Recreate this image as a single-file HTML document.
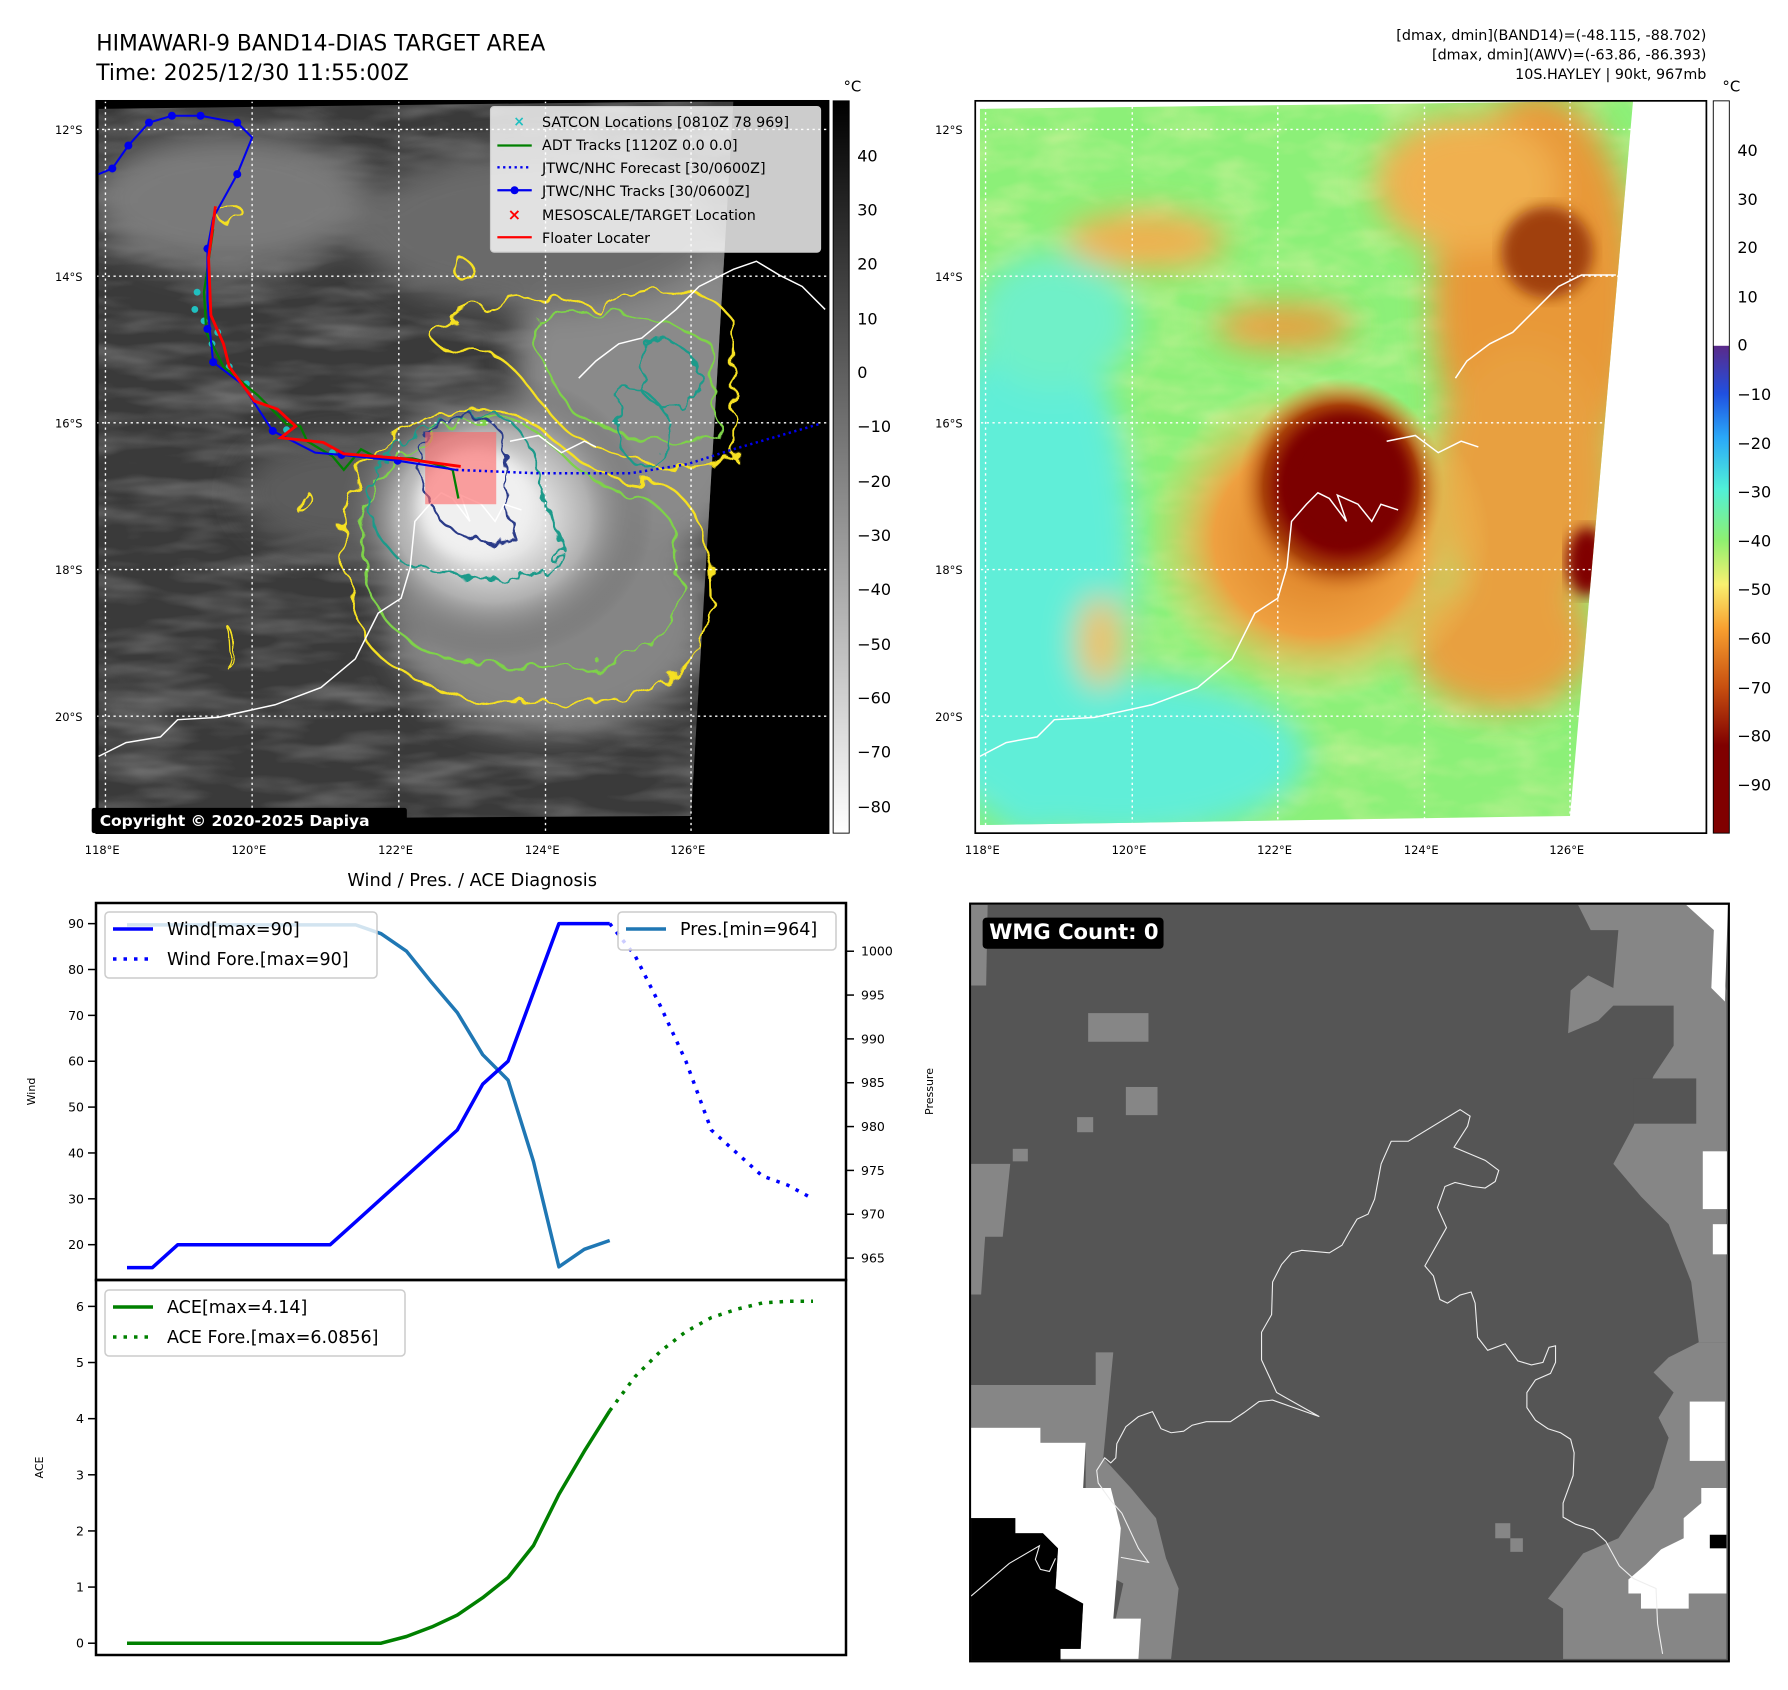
<!DOCTYPE html>
<html><head><meta charset="utf-8">
<style>
html,body{margin:0;padding:0;background:#fff;}
body{width:1788px;height:1690px;position:relative;overflow:hidden;font-family:"Liberation Sans","DejaVu Sans",sans-serif;}
svg{position:absolute;left:0;top:0;}
text{font-family:"DejaVu Sans","Liberation Sans",sans-serif;}
</style></head>
<body>
<svg width="1788" height="1690" viewBox="0 0 1560.2 1474.7">
<defs>
<filter id="wig" x="-20%" y="-20%" width="140%" height="140%"><feTurbulence type="fractalNoise" baseFrequency="0.05" numOctaves="2" seed="3"/><feDisplacementMap in="SourceGraphic" scale="22"/></filter>
<filter id="wig2" x="-20%" y="-20%" width="140%" height="140%"><feTurbulence type="fractalNoise" baseFrequency="0.08" numOctaves="2" seed="7"/><feDisplacementMap in="SourceGraphic" scale="16"/></filter>
<filter id="bl"><feGaussianBlur stdDeviation="14"/></filter>
<filter id="bl2"><feGaussianBlur stdDeviation="6"/></filter>
<filter id="tex" x="0" y="0" width="100%" height="100%"><feTurbulence type="fractalNoise" baseFrequency="0.012 0.05" numOctaves="3" seed="11"/><feColorMatrix type="matrix" values="0 0 0 0 1  0 0 0 0 1  0 0 0 0 1  0.9 0 0 0 -0.35"/></filter>
<filter id="tex2" x="0" y="0" width="100%" height="100%"><feTurbulence type="fractalNoise" baseFrequency="0.02 0.04" numOctaves="3" seed="5"/><feColorMatrix type="matrix" values="0 0 0 0 0.97  0 0 0 0 0.9  0 0 0 0 0.45  1.2 0 0 0 -0.45"/></filter>
<clipPath id="c1"><polygon points="86,95 640,88 603,712 86,715"/></clipPath>
<clipPath id="c2"><polygon points="855,95 1425,88 1370,712 855,720"/></clipPath>
<linearGradient id="gcb" x1="0" y1="0" x2="0" y2="1"><stop offset="0" stop-color="#000"/><stop offset="1" stop-color="#fff"/></linearGradient>
<linearGradient id="ccb" x1="0" y1="0" x2="0" y2="1">
<stop offset="0" stop-color="#fff"/><stop offset="0.334" stop-color="#fff"/><stop offset="0.335" stop-color="#5a2a8a"/>
<stop offset="0.40" stop-color="#2050e0"/><stop offset="0.46" stop-color="#2aa8f8"/><stop offset="0.53" stop-color="#50f0d8"/>
<stop offset="0.60" stop-color="#8ef070"/><stop offset="0.66" stop-color="#f8f070"/><stop offset="0.72" stop-color="#f8a030"/>
<stop offset="0.80" stop-color="#c85010"/><stop offset="0.88" stop-color="#800000"/><stop offset="1" stop-color="#800000"/></linearGradient>
<radialGradient id="stormg"><stop offset="0" stop-color="#f4f4f4"/><stop offset="0.3" stop-color="#e4e4e4"/><stop offset="0.6" stop-color="#b0b0b0"/><stop offset="1" stop-color="#555" stop-opacity="0"/></radialGradient>
<radialGradient id="stormc"><stop offset="0" stop-color="#780000"/><stop offset="0.55" stop-color="#800000"/><stop offset="0.75" stop-color="#a84008"/><stop offset="1" stop-color="#e08a30" stop-opacity="0"/></radialGradient>
<radialGradient id="orng"><stop offset="0" stop-color="#d87820"/><stop offset="0.6" stop-color="#eea040"/><stop offset="1" stop-color="#f0d060" stop-opacity="0"/></radialGradient>
</defs>

<text x="84" y="44" font-size="19">HIMAWARI-9 BAND14-DIAS TARGET AREA</text>
<text x="84" y="70" font-size="19">Time: 2025/12/30 11:55:00Z</text>
<g font-size="12.5" text-anchor="end">
<text x="1489" y="35">[dmax, dmin](BAND14)=(-48.115, -88.702)</text>
<text x="1489" y="52">[dmax, dmin](AWV)=(-63.86, -86.393)</text>
<text x="1489" y="69">10S.HAYLEY | 90kt, 967mb</text>
</g>

<g>
<rect x="84" y="88" width="639" height="639" fill="#000"/>
<g clip-path="url(#c1)">
<rect x="80" y="80" width="600" height="650" fill="#3a3a3a"/>
<rect x="80" y="80" width="600" height="650" filter="url(#tex)" opacity="0.55"/>
<g filter="url(#bl)">
<ellipse cx="200" cy="175" rx="120" ry="60" fill="#7a7a7a"/>
<ellipse cx="560" cy="330" rx="110" ry="160" fill="#8a8a8a"/>
<ellipse cx="470" cy="200" rx="160" ry="70" fill="#6a6a6a"/>
<ellipse cx="480" cy="540" rx="140" ry="100" fill="#858585"/>
<ellipse cx="300" cy="430" rx="90" ry="50" fill="#5c5c5c"/>
</g>
<ellipse cx="430" cy="450" rx="140" ry="125" fill="url(#stormg)"/>
<ellipse cx="415" cy="440" rx="50" ry="48" fill="#f0f0f0" filter="url(#bl2)"/>
</g>
<g fill="none" stroke-width="2">
<g stroke="#f5e020" filter="url(#wig)">
<path d="M310,420 C330,370 400,350 440,360 C480,365 500,420 560,420 C600,420 620,460 620,520 C620,590 560,620 480,610 C420,620 350,600 320,560 C300,520 290,460 310,420Z"/>
<path d="M380,290 C420,260 480,250 520,270 C560,240 620,250 640,280 L640,400 C600,420 560,400 520,390 C480,380 460,320 430,310 C400,305 370,305 380,290Z"/>
<path d="M190,185 C200,175 215,180 212,190 C205,200 190,198 190,185Z"/>
<path d="M395,225 C405,220 420,235 410,245 C400,248 392,235 395,225Z"/>
<path d="M260,430 C270,420 275,440 265,450Z"/>
<path d="M200,550 C205,545 210,580 202,585Z"/>
</g>
<g stroke="#7ed24a" filter="url(#wig)">
<path d="M325,430 C350,380 410,360 440,365 C480,370 500,425 550,430 C590,440 600,480 590,530 C570,580 510,590 460,580 C410,585 350,570 330,530 C315,500 312,460 325,430Z"/>
<path d="M470,280 C520,270 580,270 620,300 L625,380 C590,400 540,380 500,360 C480,330 460,300 470,280Z"/>
</g>
<g stroke="#1e9a8a" filter="url(#wig2)">
<path d="M325,420 C340,375 400,360 430,362 C460,365 470,410 475,440 C490,470 500,490 470,500 C440,510 380,500 350,490 C330,470 315,450 325,420Z"/>
<path d="M560,300 C590,290 615,310 610,340 C600,360 570,360 560,340Z"/>
<path d="M540,340 C570,335 590,360 580,400 C560,420 540,400 540,370Z"/>
</g>
<g stroke="#2c3a88" filter="url(#wig2)">
<path d="M368,390 C380,360 420,355 435,375 C445,400 440,440 450,470 C430,480 400,470 385,455 C375,440 362,415 368,390Z"/>
</g>
</g>
<g fill="none" stroke="#fff" stroke-width="1.3">
<path d="M86,660 L110,648 L140,643 L155,628 L190,626 L240,615 L280,600 L310,575 L330,535 L350,522 L358,495 L362,455 L375,440 L385,430 L395,435 L410,455 L402,432 L420,440 L432,455 L440,440 L455,445"/>
<path d="M505,330 L520,315 L540,300 L560,295 L590,270 L610,250 L640,235 L660,228 L680,240 L700,250 L720,270"/>
<path d="M445,385 L470,380 L490,395 L510,385 L520,390"/>
</g>
<g stroke="#fff" stroke-width="1.2" stroke-dasharray="2,3">
<line x1="92" y1="88" x2="92" y2="727"/><line x1="220" y1="88" x2="220" y2="727"/><line x1="348" y1="88" x2="348" y2="727"/><line x1="476" y1="88" x2="476" y2="727"/><line x1="603" y1="88" x2="603" y2="727"/>
<line x1="84" y1="113" x2="723" y2="113"/><line x1="84" y1="241" x2="723" y2="241"/><line x1="84" y1="369" x2="723" y2="369"/><line x1="84" y1="497" x2="723" y2="497"/><line x1="84" y1="625" x2="723" y2="625"/>
</g>
<rect x="371" y="377" width="62" height="63" fill="#ff6666" opacity="0.6"/>
<polyline points="398,410 470,413 550,413 600,405 640,392 715,370" fill="none" stroke="#0000ee" stroke-width="2.2" stroke-dasharray="2,3"/>
<g fill="#20c0c0">
<circle cx="172" cy="255" r="3"/><circle cx="178" cy="280" r="3"/><circle cx="185" cy="300" r="3"/><circle cx="200" cy="320" r="3"/><circle cx="215" cy="335" r="3"/><circle cx="250" cy="375" r="3"/><circle cx="290" cy="395" r="3"/><circle cx="170" cy="270" r="3"/><circle cx="190" cy="290" r="3"/>
</g>
<polyline points="186,200 178,255 180,290 195,320 225,345 250,370 262,372 268,385 290,398 300,410 315,392 330,400 360,400 380,405 395,410 400,435" fill="none" stroke="#008000" stroke-width="2"/>
<polyline points="86,152 98,147 112,127 130,107 150,101 175,101 207,107 220,120 207,152 186,190 181,217 181,262 183,287 186,316 211,335 238,376 275,395 298,397 347,402 398,410" fill="none" stroke="#0000ee" stroke-width="1.8"/>
<g fill="#0000ee"><circle cx="98" cy="147" r="3.5"/><circle cx="112" cy="127" r="3.5"/><circle cx="130" cy="107" r="3.5"/><circle cx="150" cy="101" r="3.5"/><circle cx="175" cy="101" r="3.5"/><circle cx="207" cy="107" r="3.5"/><circle cx="207" cy="152" r="3.5"/><circle cx="181" cy="217" r="3.5"/><circle cx="181" cy="287" r="3.5"/><circle cx="186" cy="316" r="3.5"/><circle cx="238" cy="376" r="3.5"/><circle cx="298" cy="397" r="3.5"/><circle cx="347" cy="402" r="3.5"/></g>
<polyline points="188,180 182,225 184,275 195,300 200,320 222,350 242,357 258,372 245,382 282,386 300,396 350,400 402,407" fill="none" stroke="#ff0000" stroke-width="2.5"/>
<g>
<rect x="428" y="93" width="288" height="127" rx="3" fill="#fff" fill-opacity="0.8" stroke="#ccc"/>
<g font-size="12.5">
<text x="448" y="110" fill="#20c0c0" font-size="12" font-weight="bold">×</text><text x="473" y="111">SATCON Locations [0810Z 78 969]</text>
<line x1="434" y1="127" x2="464" y2="127" stroke="#008000" stroke-width="2"/><text x="473" y="131">ADT Tracks [1120Z 0.0 0.0]</text>
<line x1="434" y1="146" x2="464" y2="146" stroke="#0000ee" stroke-width="2" stroke-dasharray="2,3"/><text x="473" y="151">JTWC/NHC Forecast [30/0600Z]</text>
<line x1="434" y1="166" x2="464" y2="166" stroke="#0000ee" stroke-width="2"/><circle cx="449" cy="166" r="3.5" fill="#0000ee"/><text x="473" y="171">JTWC/NHC Tracks [30/0600Z]</text>
<text x="443" y="192" fill="#ff0000" font-size="14" font-weight="bold">×</text><text x="473" y="192">MESOSCALE/TARGET Location</text>
<line x1="434" y1="207" x2="464" y2="207" stroke="#ff0000" stroke-width="2"/><text x="473" y="212">Floater Locater</text>
</g></g>
<rect x="80" y="705" width="275" height="22" rx="2" fill="#000"/>
<text x="87" y="721" fill="#fff" font-size="13.5" font-weight="bold">Copyright © 2020-2025 Dapiya</text>
<rect x="84" y="88" width="639" height="639" fill="none" stroke="#000" stroke-width="1.5"/>
</g>
<g>
<rect x="727" y="88" width="14" height="639" fill="url(#gcb)" stroke="#000" stroke-width="0.8"/>
<text x="736" y="80" font-size="13">°C</text>
<g font-size="14">
<text x="748" y="141">40</text><text x="748" y="188">30</text><text x="748" y="235">20</text><text x="748" y="283">10</text><text x="748" y="330">0</text>
<text x="748" y="377">−10</text><text x="748" y="425">−20</text><text x="748" y="472">−30</text><text x="748" y="519">−40</text><text x="748" y="567">−50</text><text x="748" y="614">−60</text><text x="748" y="661">−70</text><text x="748" y="709">−80</text>
</g></g>
<g font-size="10">
<text x="48" y="117">12°S</text><text x="48" y="245">14°S</text><text x="48" y="373">16°S</text><text x="48" y="501">18°S</text><text x="48" y="629">20°S</text>
<text x="74" y="745">118°E</text><text x="202" y="745">120°E</text><text x="330" y="745">122°E</text><text x="458" y="745">124°E</text><text x="585" y="745">126°E</text>
</g>

<g>
<rect x="851" y="88" width="638" height="639" fill="#fff"/>
<g clip-path="url(#c2)">
<rect x="850" y="80" width="600" height="650" fill="#8cf078"/>
<rect x="850" y="80" width="600" height="650" filter="url(#tex2)" opacity="0.6"/>
<g filter="url(#bl)">
<ellipse cx="900" cy="500" rx="90" ry="230" fill="#60eed8"/>
<ellipse cx="980" cy="660" rx="160" ry="70" fill="#60eed8"/>
<ellipse cx="920" cy="280" rx="70" ry="60" fill="#70f0c8"/>
<ellipse cx="1340" cy="260" rx="90" ry="180" fill="#e89838"/>
<ellipse cx="1280" cy="160" rx="80" ry="60" fill="#f0b050"/>
<ellipse cx="1330" cy="420" rx="80" ry="120" fill="#e8a040"/>
<ellipse cx="1310" cy="560" rx="80" ry="60" fill="#e8a040"/>
<ellipse cx="1000" cy="210" rx="70" ry="25" fill="#f0b050"/>
<ellipse cx="1120" cy="285" rx="60" ry="20" fill="#e8a040"/>
<ellipse cx="960" cy="560" rx="20" ry="40" fill="#f0c060"/>
</g>
<ellipse cx="1350" cy="220" rx="40" ry="40" fill="#a04010" filter="url(#bl2)"/>
<ellipse cx="1385" cy="490" rx="18" ry="30" fill="#800000" filter="url(#bl2)"/>
<ellipse cx="1150" cy="470" rx="150" ry="140" fill="url(#orng)"/>
<ellipse cx="1170" cy="425" rx="90" ry="95" fill="url(#stormc)"/>
<ellipse cx="1175" cy="420" rx="55" ry="58" fill="#7c0000" filter="url(#bl2)"/>
</g>
<g fill="none" stroke="#fff" stroke-width="1.3">
<path d="M855,660 L878,648 L905,643 L920,628 L955,626 L1005,615 L1045,600 L1075,575 L1095,535 L1115,522 L1123,495 L1127,455 L1140,440 L1150,430 L1160,435 L1175,455 L1167,432 L1185,440 L1197,455 L1205,440 L1220,445"/>
<path d="M1270,330 L1280,315 L1300,300 L1320,290 L1340,270 L1360,250 L1380,240 L1410,240"/>
<path d="M1210,385 L1235,380 L1255,395 L1275,385 L1290,390"/>
</g>
<g stroke="#fff" stroke-width="1.2" stroke-dasharray="2,3">
<line x1="860" y1="88" x2="860" y2="727"/><line x1="988" y1="88" x2="988" y2="727"/><line x1="1115" y1="88" x2="1115" y2="727"/><line x1="1243" y1="88" x2="1243" y2="727"/><line x1="1370" y1="88" x2="1370" y2="727"/>
<line x1="851" y1="113" x2="1430" y2="113"/><line x1="851" y1="241" x2="1420" y2="241"/><line x1="851" y1="369" x2="1408" y2="369"/><line x1="851" y1="497" x2="1396" y2="497"/><line x1="851" y1="625" x2="1383" y2="625"/>
</g>
<rect x="851" y="88" width="638" height="639" fill="none" stroke="#000" stroke-width="1.5"/>
</g>
<g>
<rect x="1495" y="88" width="14" height="639" fill="url(#ccb)" stroke="#000" stroke-width="0.8"/>
<text x="1503" y="80" font-size="13">°C</text>
<g font-size="14">
<text x="1516" y="136">40</text><text x="1516" y="179">30</text><text x="1516" y="221">20</text><text x="1516" y="264">10</text><text x="1516" y="306">0</text>
<text x="1516" y="349">−10</text><text x="1516" y="392">−20</text><text x="1516" y="434">−30</text><text x="1516" y="477">−40</text><text x="1516" y="519">−50</text><text x="1516" y="562">−60</text><text x="1516" y="605">−70</text><text x="1516" y="647">−80</text><text x="1516" y="690">−90</text>
</g></g>
<g font-size="10">
<text x="816" y="117">12°S</text><text x="816" y="245">14°S</text><text x="816" y="373">16°S</text><text x="816" y="501">18°S</text><text x="816" y="629">20°S</text>
<text x="842" y="745">118°E</text><text x="970" y="745">120°E</text><text x="1097" y="745">122°E</text><text x="1225" y="745">124°E</text><text x="1352" y="745">126°E</text>
</g>

<svg x="837.7" y="776.6" width="680.6" height="680.6" viewBox="0 0 1552 1552">
<rect x="20" y="27" width="1510" height="1508" fill="#555"/>
<g fill="#868686">
<polygon points="22,30 55,30 52,190 22,190"/>
<polygon points="22,545 100,545 85,690 50,690 42,805 22,805"/>
<polygon points="1230,30 1445,30 1500,80 1525,200 1525,900 1470,900 1455,780 1410,665 1355,610 1300,545 1340,470 1380,370 1420,310 1420,230 1300,230 1270,260 1210,285 1215,200 1250,170 1300,195 1310,80 1255,80"/>
<polygon points="1170,1410 1240,1320 1310,1290 1380,1190 1410,1090 1390,1050 1420,1000 1380,960 1410,930 1470,900 1525,900 1525,1530 1200,1530 1200,1430"/>
<polygon points="22,985 270,985 270,920 305,920 285,1130 340,1190 390,1250 410,1330 435,1390 420,1530 355,1530 310,1450 325,1380 250,1340 250,1100 160,1100 160,1070 22,1070"/>
<rect x="255" y="245" width="120" height="57"/><rect x="330" y="392" width="63" height="56"/><rect x="233" y="452" width="32" height="30"/><rect x="105" y="515" width="30" height="25"/><rect x="1065" y="1260" width="30" height="30"/><rect x="1095" y="1290" width="25" height="27"/>
</g>
<g fill="#555"><rect x="1340" y="375" width="125" height="90"/></g>
<g fill="#fff">
<polygon points="1445,30 1528,30 1522,222 1495,195 1500,80"/>
<rect x="1478" y="520" width="48" height="115"/><rect x="1498" y="665" width="28" height="60"/>
<rect x="1452" y="1018" width="70" height="118"/>
<polygon points="1525,1190 1525,1400 1450,1400 1450,1430 1355,1430 1355,1400 1330,1400 1330,1372 1365,1342 1395,1312 1440,1290 1440,1250 1475,1220 1475,1190"/>
<polygon points="22,1070 160,1070 160,1100 250,1100 245,1190 300,1190 320,1270 305,1450 360,1450 355,1530 200,1530 200,1510 240,1510 245,1420 190,1390 195,1310 165,1280 110,1280 110,1250 22,1250"/>
</g>
<g fill="#000">
<polygon points="22,1250 110,1250 110,1280 165,1280 195,1310 190,1390 245,1420 240,1510 200,1510 200,1533 22,1533"/>
<rect x="1492" y="1283" width="33" height="27"/>
</g>
<path d="M715,1048 L630,1000 L600,935 L600,880 L620,845 L622,780 L640,745 L660,722 L680,717 L735,722 L760,707 L775,680 L790,655 L812,645 L825,615 L838,545 L858,500 L892,500 L995,437 L1015,450 L1010,470 L983,512 L1045,538 L1072,558 L1065,580 L1045,593 L1020,590 L985,582 L965,590 L950,632 L968,672 L925,748 L942,768 L955,815 L970,822 L995,806 L1017,800 L1025,822 L1030,890 L1050,916 L1085,903 L1110,937 L1137,945 L1160,940 L1172,910 L1185,907 L1185,940 L1175,962 L1145,975 L1128,1000 L1128,1030 L1145,1055 L1170,1072 L1195,1080 L1215,1093 L1222,1120 L1220,1165 L1200,1220 L1200,1248 L1225,1262 L1260,1273 L1285,1296 L1312,1345 L1340,1370 L1385,1390 L1388,1460 L1398,1520 M715,1048 L622,1015 L595,1018 L565,1040 L538,1058 L490,1058 L462,1065 L445,1077 L420,1080 L400,1072 L383,1038 L355,1048 L330,1068 L312,1102 L310,1130 L300,1140 L288,1130 L272,1155 L275,1180 L300,1215 L322,1240 L355,1310 L375,1338 L320,1328 M190,1330 L178,1356 L160,1352 L150,1332 L158,1305 L98,1340 L22,1405" fill="none" stroke="#eee" stroke-width="2.2"/>
<rect x="45" y="55" width="360" height="62" rx="8" fill="#000"/>
<text x="58" y="98" fill="#fff" font-size="42" font-weight="bold">WMG Count: 0</text>
<rect x="20" y="27" width="1510" height="1508" fill="none" stroke="#000" stroke-width="4"/>
</svg>

<text x="412" y="773" font-size="15.5" text-anchor="middle">Wind / Pres. / ACE Diagnosis</text>
</svg>

<svg id="chart" width="1788" height="1690"></svg>

<script>
const windObs = [15,15,20,20,20,20,20,20,20,25,30,35,40,45,55,60,75,90,90,90];
const windFore = [90,83,72,60,45,40,35,33,30];
const presObs = [1003,1003,1003,1003,1003,1003,1003,1003,1003,1003,1002,1000,996.4,993,988.2,985.3,976,964,966,967];
const aceObs = [0,0,0,0,0,0,0,0,0,0,0,0.12,0.29,0.5,0.81,1.17,1.74,2.65,3.42,4.14];
const aceFore = [4.14,4.75,5.2,5.55,5.8,5.95,6.06,6.09,6.09];
const foreStart = 19;
const windTicks = [20,30,40,50,60,70,80,90];
const presTicks = [965,970,975,980,985,990,995,1000];
const aceTicks = [0,1,2,3,4,5,6];

const NS = 'http://www.w3.org/2000/svg';
const svg = document.getElementById('chart');
const L = 96, R = 846, T1 = 903, B1 = 1280, T2 = 1280, B2 = 1655;
const X = i => L + (i - (-1.22)) / (28.3 + 1.22) * (R - L);
const Yw = v => B1 - (v - 12.3) / (94.5 - 12.3) * (B1 - T1);
const Yp = v => B1 - (v - 962.5) / (1005.5 - 962.5) * (B1 - T1);
const Ya = v => B2 - (v - (-0.21)) / (6.47 + 0.21) * (B2 - T2);

function mk(tag, attrs, parent) {
  const e = document.createElementNS(NS, tag);
  for (const k in attrs) e.setAttribute(k, attrs[k]);
  (parent || svg).appendChild(e);
  return e;
}
function line(vals, off, xf, yf, color, dash, name) {
  const pts = vals.map((v, i) => xf(i + off).toFixed(1) + ',' + yf(v).toFixed(1)).join(' ');
  const p = mk('polyline', {points: pts, fill: 'none', stroke: color, 'stroke-width': 3.5, 'stroke-linejoin': 'round'});
  if (dash) { p.setAttribute('stroke-dasharray', '3.5,7'); p.setAttribute('stroke-linecap', 'butt'); }
  
  
  return p;
}
function txt(x, y, s, size, anchor, name) {
  const t = mk('text', {x: x, y: y, 'font-size': size, 'text-anchor': anchor || 'start'});
  t.textContent = s;
  
  
  return t;
}

const f1 = mk('rect', {x: L, y: T1, width: R - L, height: B1 - T1, fill: 'none', stroke: '#000', 'stroke-width': 2.5});


const f2 = mk('rect', {x: L, y: T2, width: R - L, height: B2 - T2, fill: 'none', stroke: '#000', 'stroke-width': 2.5});



windTicks.forEach(v => {
  mk('line', {x1: L - 8, x2: L, y1: Yw(v), y2: Yw(v), stroke: '#000', 'stroke-width': 1.5});
  txt(L - 12, Yw(v) + 4.5, String(v), 12.5, 'end', 'wind-tick-label');
});
presTicks.forEach(v => {
  mk('line', {x1: R, x2: R + 8, y1: Yp(v), y2: Yp(v), stroke: '#000', 'stroke-width': 1.5});
  txt(R + 15, Yp(v) + 4.5, String(v), 12.5, 'start', 'pressure-tick-label');
});
aceTicks.forEach(v => {
  mk('line', {x1: L - 8, x2: L, y1: Ya(v), y2: Ya(v), stroke: '#000', 'stroke-width': 1.5});
  txt(L - 12, Ya(v) + 4.5, String(v), 12.5, 'end', 'ace-tick-label');
});
const yl1 = txt(0, 0, 'Wind', 11, 'middle', 'wind-axis-title');
yl1.setAttribute('transform', 'translate(35,' + ((T1 + B1) / 2) + ') rotate(-90)');
const yl2 = txt(0, 0, 'Pressure', 11, 'middle', 'pressure-axis-title');
yl2.setAttribute('transform', 'translate(933,' + ((T1 + B1) / 2) + ') rotate(-90)');
const yl3 = txt(0, 0, 'ACE', 11, 'middle', 'ace-axis-title');
yl3.setAttribute('transform', 'translate(43,' + ((T2 + B2) / 2) + ') rotate(-90)');

line(presObs, 0, X, Yp, '#1f77b4', false, 'pressure-line');
line(windObs, 0, X, Yw, '#0000ff', false, 'wind-line');
line(windFore, foreStart, X, Yw, '#0000ff', true, 'wind-forecast-line');
line(aceObs, 0, X, Ya, '#008000', false, 'ace-line');
line(aceFore, foreStart, X, Ya, '#008000', true, 'ace-forecast-line');

function legend(x, y, w, h, items, name) {
  const g = mk('g', {});
  
  
  mk('rect', {x: x, y: y, width: w, height: h, rx: 4, fill: '#fff', 'fill-opacity': 0.8, stroke: '#ccc', 'stroke-width': 1.5}, g);
  items.forEach((it, k) => {
    const cy = y + 17 + k * 30;
    const ln = mk('line', {x1: x + 8, x2: x + 48, y1: cy, y2: cy, stroke: it[1], 'stroke-width': 3.5}, g);
    if (it[2]) ln.setAttribute('stroke-dasharray', '3.5,7');
    const t = mk('text', {x: x + 62, y: cy + 6, 'font-size': 17.5}, g);
    t.textContent = it[0];
  });
}
legend(105, 912, 272, 66, [['Wind[max=90]', '#0000ff', false], ['Wind Fore.[max=90]', '#0000ff', true]], 'wind-legend');
legend(618, 912, 218, 38, [['Pres.[min=964]', '#1f77b4', false]], 'pressure-legend');
legend(105, 1290, 300, 66, [['ACE[max=4.14]', '#008000', false], ['ACE Fore.[max=6.0856]', '#008000', true]], 'ace-legend');
</script>
</body></html>
